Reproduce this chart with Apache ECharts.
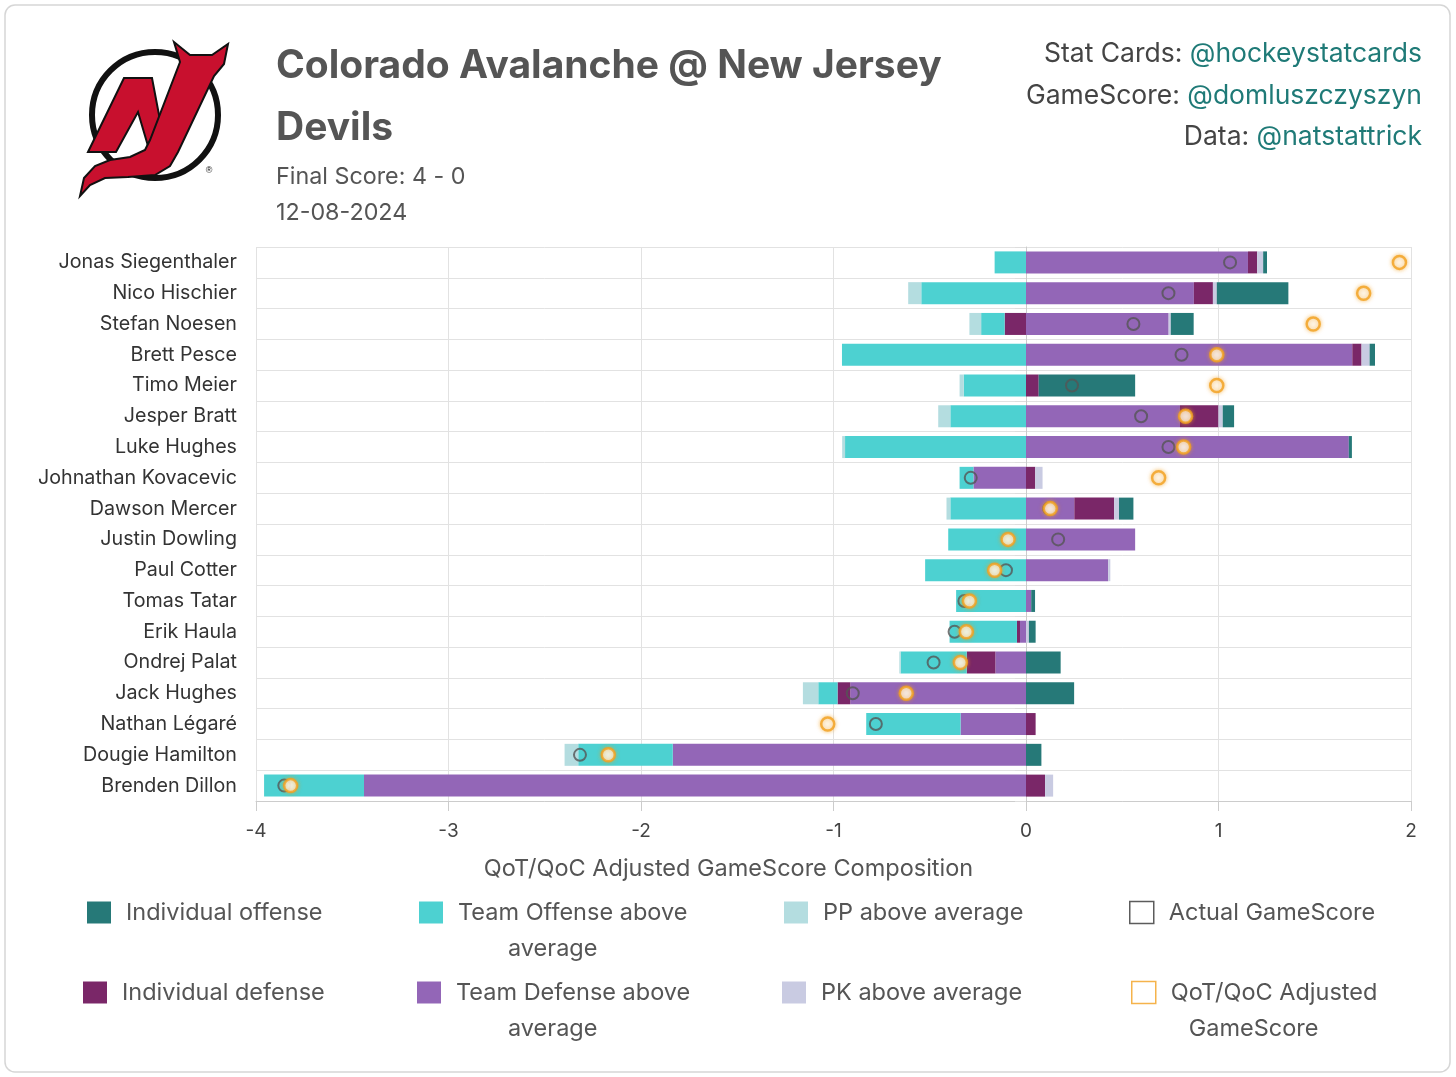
<!DOCTYPE html>
<html>
<head>
<meta charset="utf-8">
<script src="https://cdn.jsdelivr.net/npm/echarts@6/dist/echarts.min.js"></script>
<style>
html,body{margin:0;padding:0;background:#fff;}
#chart{width:1456px;height:1077px;}
</style>
</head>
<body>
<div id="chart"></div>
<script>
const players = ['Jonas Siegenthaler','Nico Hischier','Stefan Noesen','Brett Pesce','Timo Meier','Jesper Bratt','Luke Hughes','Johnathan Kovacevic','Dawson Mercer','Justin Dowling','Paul Cotter','Tomas Tatar','Erik Haula','Ondrej Palat','Jack Hughes','Nathan Légaré','Dougie Hamilton','Brenden Dillon'];
const teamDefense  = [1.153, 0.872, 0.741, 1.695, 0, 0.80, 1.677, -0.273, 0.251, 0.567, 0.427, 0.027, -0.031, -0.159, -0.913, -0.34, -1.835, -3.439];
const indivDefense = [0.048, 0.099, -0.111, 0.048, 0.066, 0.20, 0, 0.048, 0.207, 0, 0, 0, -0.016, -0.149, -0.066, 0.05, 0, 0.099];
const teamOffense  = [-0.163, -0.544, -0.122, -0.956, -0.323, -0.393, -0.94, -0.072, -0.393, -0.404, -0.524, -0.363, -0.35, -0.343, -0.10, -0.49, -0.491, -0.519];
const ppAbove      = [0, -0.068, -0.061, 0, -0.022, -0.063, -0.015, 0, -0.02, 0, 0, 0, 0, -0.007, -0.08, 0, -0.071, 0];
const pkAbove      = [0.031, 0.02, 0.011, 0.042, 0, 0.022, 0, 0.038, 0.025, 0, 0.011, 0, 0.015, 0, 0, 0, 0, 0.042];
const indivOffense = [0.02, 0.372, 0.119, 0.028, 0.501, 0.059, 0.016, 0, 0.075, 0, 0, 0.02, 0.035, 0.18, 0.25, 0, 0.08, 0];
const actualGS     = [1.06, 0.74, 0.558, 0.808, 0.239, 0.598, 0.74, -0.287, 0.12, 0.167, -0.104, -0.32, -0.371, -0.48, -0.90, -0.78, -2.317, -3.853];
const adjustedGS   = [1.94, 1.754, 1.492, 0.991, 0.991, 0.829, 0.819, 0.689, 0.126, -0.093, -0.163, -0.294, -0.31, -0.341, -0.622, -1.03, -2.17, -3.82];
const xTicks = [-4, -3, -2, -1, 0, 1, 2];

const FONT = 'Inter, Roboto, "Noto Sans", sans-serif';
const LFS = 23.5;
const C = {
  io: '#267978', to: '#4dd1d1', pp: '#b4dde0',
  id: '#7a2768', td: '#9366b7', pk: '#c9cbe2',
  act: '#555555', adj: '#f2a01e'
};

const chart = echarts.init(document.getElementById('chart'), null, {renderer: 'canvas'});

function barSeries(name, data, color) {
  return {
    name, type: 'bar', stack: 'gs', data, barWidth: 22,
    itemStyle: {color}, emphasis: {disabled: true}, z: 2
  };
}

const legendSpecs = [
  {name: 'Individual offense', left: 87, cy: 912.5},
  {name: 'Team Offense above average', left: 419, cy: 912.5, l1: 'Team Offense above', l2: 'average', pad: 50},
  {name: 'PP above average', left: 784, cy: 912.5},
  {name: 'Actual GameScore', left: 1129, cy: 912.5, icon: {color: '#fff', borderColor: '#333', borderWidth: 1.5}},
  {name: 'Individual defense', left: 83, cy: 992.5},
  {name: 'Team Defense above average', left: 417, cy: 992.5, l1: 'Team Defense above', l2: 'average', pad: 52},
  {name: 'PK above average', left: 782, cy: 992.5},
  {name: 'QoT/QoC Adjusted GameScore', left: 1131, cy: 992.5, l1: 'QoT/QoC Adjusted', l2: 'GameScore', pad: 18, icon: {color: '#fff', borderColor: C.adj, borderWidth: 1.5}}
];

const legends = legendSpecs.map(s => {
  const two = !!s.l1;
  const d = {name: s.name, icon: 'rect'};
  if (s.icon) d.itemStyle = s.icon;
  const lg = {
    data: [d], orient: 'horizontal', padding: 0,
    left: s.left, top: two ? s.cy - 54 : s.cy - 18,
    itemWidth: 24, itemHeight: 22, selectedMode: false,
    textStyle: {
      fontSize: LFS, color: '#555', fontFamily: FONT, lineHeight: 36,
      padding: two ? [36, 0, 0, 10] : [0, 0, 0, 10],
      rich: {
        a: {fontSize: LFS, color: '#555', fontFamily: FONT, lineHeight: 36},
        b: {fontSize: LFS, color: '#555', fontFamily: FONT, lineHeight: 36, padding: [0, 0, 0, s.pad || 0]}
      }
    }
  };
  if (two) lg.formatter = function () { return '{a|' + s.l1 + '}\n{b|' + s.l2 + '}'; };
  return lg;
});

const option = {
  animation: false,
  backgroundColor: '#fff',
  textStyle: {fontFamily: FONT},
  title: {
    text: 'Colorado Avalanche @ New Jersey\nDevils',
    subtext: 'Final Score: 4 - 0\n12-08-2024',
    left: 276, top: 35, padding: 0, itemGap: 0,
    textStyle: {fontSize: 39, fontWeight: 'bold', color: '#555', lineHeight: 62, fontFamily: FONT},
    subtextStyle: {fontSize: 23.3, color: '#555', lineHeight: 36, fontFamily: FONT}
  },
  legend: legends,
  grid: {left: 256, right: 45, top: 247, bottom: 276, containLabel: false},
  xAxis: {
    type: 'value', min: xTicks[0], max: xTicks[xTicks.length - 1], interval: 1,
    axisLine: {show: true, lineStyle: {color: '#ccc'}},
    axisTick: {show: true, length: 10, lineStyle: {color: '#ccc'}},
    axisLabel: {fontSize: 19, color: '#444', margin: 21, fontFamily: FONT},
    splitLine: {show: true, lineStyle: {color: '#e2e2e2', width: 1}},
    name: 'QoT/QoC Adjusted GameScore Composition', nameLocation: 'middle', nameGap: 56,
    nameTextStyle: {fontSize: 23.5, color: '#555', fontFamily: FONT, padding: [0, 210, 0, 0]}
  },
  yAxis: {
    type: 'category', data: players, inverse: true,
    axisLine: {show: true, lineStyle: {color: '#ccc'}},
    axisTick: {show: true, length: 11, lineStyle: {color: '#ddd'}},
    axisLabel: {fontSize: 19.7, color: '#333', margin: 19, fontFamily: FONT, padding: [3, 0, 0, 0]},
    splitLine: {show: true, lineStyle: {color: '#e2e2e2', width: 1}}
  },
  series: [
    barSeries('Team Defense above average', teamDefense, C.td),
    barSeries('Individual defense', indivDefense, C.id),
    barSeries('Team Offense above average', teamOffense, C.to),
    barSeries('PP above average', ppAbove, C.pp),
    barSeries('PK above average', pkAbove, C.pk),
    barSeries('Individual offense', indivOffense, C.io),
    {
      name: 'Actual GameScore', type: 'scatter', symbol: 'circle', symbolSize: 12, z: 5,
      data: actualGS.map((v, i) => [v, players[i]]),
      itemStyle: {color: 'rgba(0,0,0,0)', borderColor: C.act, borderWidth: 2},
      emphasis: {disabled: true}
    },
    {
      name: 'QoT/QoC Adjusted GameScore', type: 'scatter', symbol: 'circle', symbolSize: 13, z: 6,
      data: adjustedGS.map((v, i) => [v, players[i]]),
      itemStyle: {color: '#fff', borderColor: C.adj, borderWidth: 2.5, shadowBlur: 4, shadowColor: 'rgba(242,160,30,0.7)'},
      emphasis: {disabled: true}
    }
  ],
  graphic: [
    {type: 'rect', z: -100, silent: true, shape: {x: 5, y: 5, width: 1445, height: 1067, r: 10},
     style: {fill: '#fff', stroke: '#d6d6d6', lineWidth: 1.5}},
    {type: 'circle', z: 1, silent: true, shape: {cx: 155, cy: 115, r: 63},
     style: {fill: '#fff', stroke: '#111', lineWidth: 6}},
    {type: 'polygon', z: 2, silent: true,
     shape: {points: [[88,152],[124,78],[152,78],[160,120],[148,146],[138,112],[116,152]]},
     style: {fill: '#c8102e', stroke: '#111', lineWidth: 2}},
    {type: 'polygon', z: 2, silent: true,
     shape: {points: [[180,62],[174,42],[190,55],[212,55],[228,44],[224,64],[214,76],[178,152],[170,166],[155,175],[128,177],[105,178],[90,185],[80,196],[84,178],[95,166],[110,160],[130,157],[145,150],[150,140]]},
     style: {fill: '#c8102e', stroke: '#111', lineWidth: 2}},
    {type: 'text', z: 2, silent: true,
     style: {x: 209, y: 171, text: '®', fontSize: 9, fill: '#111', align: 'center', verticalAlign: 'middle'}},
    {type: 'text', silent: true,
     style: {x: 1422, y: 54, align: 'right', verticalAlign: 'middle',
       text: '{a|Stat Cards: }{b|@hockeystatcards}',
       rich: {a: {fill: '#444', fontSize: 26.5, fontFamily: FONT}, b: {fill: '#1f7a77', fontSize: 26.5, fontFamily: FONT}}}},
    {type: 'text', silent: true,
     style: {x: 1422, y: 96, align: 'right', verticalAlign: 'middle',
       text: '{a|GameScore: }{b|@domluszczyszyn}',
       rich: {a: {fill: '#444', fontSize: 26.5, fontFamily: FONT}, b: {fill: '#1f7a77', fontSize: 26.5, fontFamily: FONT}}}},
    {type: 'text', silent: true,
     style: {x: 1422, y: 137, align: 'right', verticalAlign: 'middle',
       text: '{a|Data: }{b|@natstattrick}',
       rich: {a: {fill: '#444', fontSize: 26.5, fontFamily: FONT}, b: {fill: '#1f7a77', fontSize: 26.5, fontFamily: FONT}}}}
  ]
};
chart.setOption(option);
</script>
</body>
</html>
